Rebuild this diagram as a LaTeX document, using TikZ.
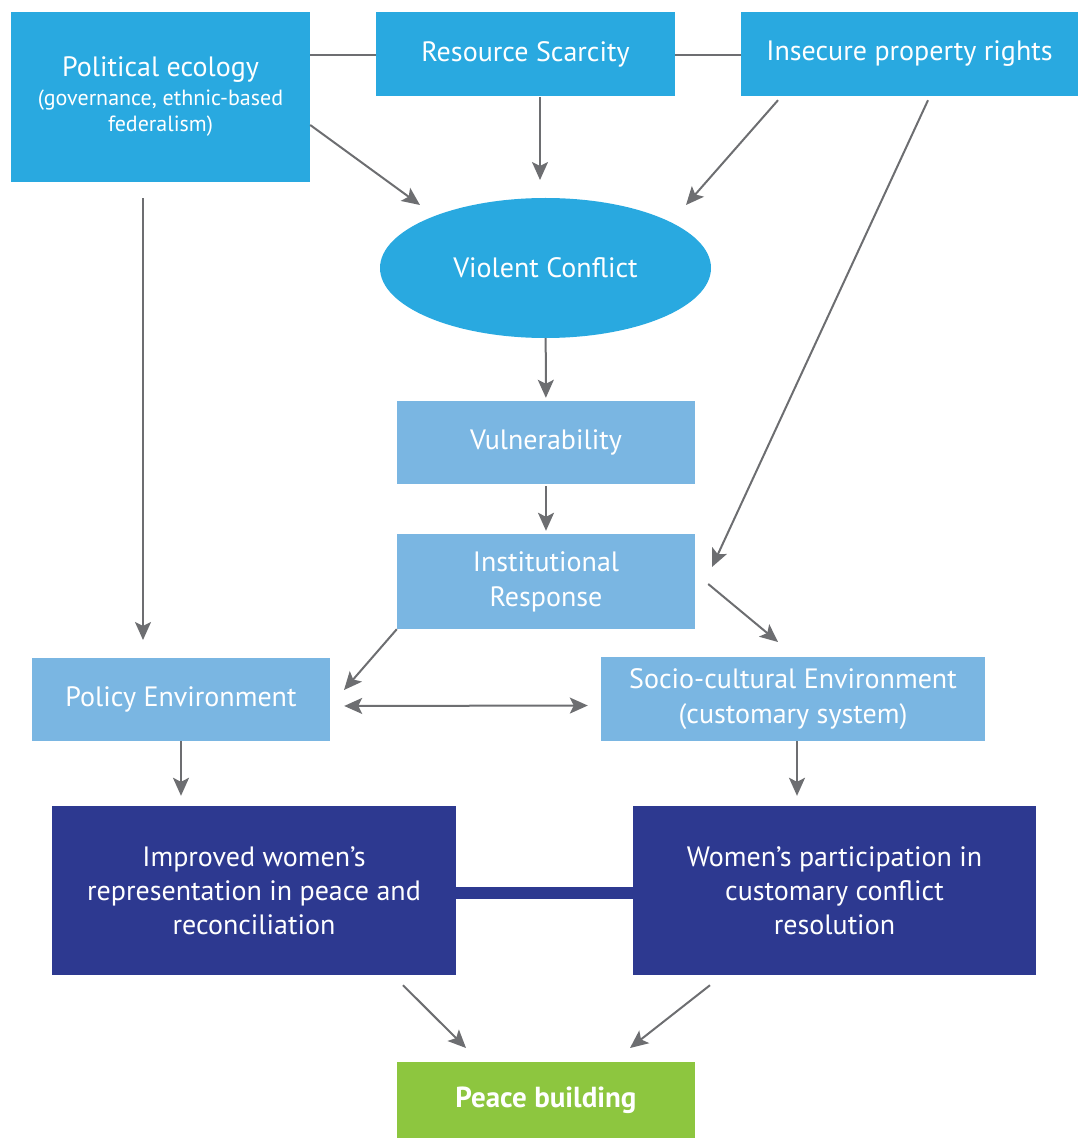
\documentclass[tikz,border=0pt]{standalone}
\usepackage{fontspec}
\setmainfont{PT Sans}
\usepackage{tikz}
\usetikzlibrary{arrows.meta,shapes.geometric}
\definecolor{topblue}{HTML}{29A9E0}
\definecolor{lightblue}{HTML}{7AB6E2}
\definecolor{navyblue}{HTML}{2D3990}
\definecolor{leafgreen}{HTML}{8DC63F}
\definecolor{arrowgray}{HTML}{6D6E71}
\def\boxfont{\fontsize{28}{35}\selectfont}
\def\subfont{\fontsize{22}{26}\selectfont}

\begin{document}
\begin{tikzpicture}[x=1pt,y=-1pt]
    \tikzstyle{box}=[rectangle,text=white,align=center,inner sep=0pt,font=\boxfont]
    \tikzstyle{top box}=[box,fill=topblue]
    \tikzstyle{mid box}=[box,fill=lightblue]
    \tikzstyle{low box}=[box,fill=navyblue,font=\fontsize{28}{34}\selectfont]
    \tikzstyle{goal box}=[box,fill=leafgreen,font=\fontsize{29}{30}\selectfont\bfseries]
    \tikzstyle{arr}=[draw=arrowgray,line width=2pt,-{Stealth[length=18pt,width=16pt,inset=4pt]}]
    \tikzstyle{link}=[draw=arrowgray,line width=1.3pt]

    \useasboundingbox (0,0) rectangle (1078,1139);

    % Top row: drivers
    \node[top box,font=\subfont,minimum width=299pt,minimum height=170pt] (pol) at (160.5,97)
        {\boxfont Political ecology\\[3pt]
         (governance, ethnic-based\\ federalism)};
    \node[top box,minimum width=299pt,minimum height=84pt] (res) at (525.5,54) {Resource Scarcity};
    \node[top box,minimum width=337pt,minimum height=84pt] (ins) at (909.5,54) {Insecure property rights};

    % Conflict and its consequences
    \node[ellipse,fill=topblue,text=white,font=\boxfont,minimum width=331pt,minimum height=140pt,inner sep=0pt] (vc) at (545.5,268) {Violent Conflict};
    \node[mid box,minimum width=298pt,minimum height=83pt] (vul) at (546,442.5) {Vulnerability};
    \node[mid box,minimum width=298pt,minimum height=95pt] (inst) at (546,581.5) {Institutional\\Response};
    \node[mid box,minimum width=298pt,minimum height=83pt] (pe) at (181,699.5) {Policy Environment};
    \node[mid box,minimum width=384pt,minimum height=84pt] (soc) at (793,699) {Socio-cultural Environment\\(customary system)};

    % Outcomes
    \node[low box,minimum width=404pt,minimum height=169pt] (imp) at (254,890.5)
        {Improved women’s\\representation in peace and\\reconciliation};
    \node[low box,minimum width=403pt,minimum height=169pt] (wp) at (834.5,890.5)
        {Women’s participation in\\customary conflict\\resolution};
    \node[goal box,minimum width=298pt,minimum height=76pt] (pb) at (546,1100) {Peace building};

    % Free ends of the slanted arrows
    \coordinate (t-pol) at (420,205);
    \coordinate (t-res) at (540,180);
    \coordinate (t-ins) at (686,205);
    \coordinate (t-inst) at (712,567);
    \coordinate (t-pe) at (143,640);
    \coordinate (t-left) at (344,690);
    \coordinate (t-right) at (778,642);
    \coordinate (t-pb1) at (466,1048);
    \coordinate (t-pb2) at (630,1048);

    % Links between the drivers
    \draw[link] ([yshift=42pt]pol.east) -- ([yshift=-1pt]res.west);
    \draw[link] ([yshift=-1pt]res.east) -- ([yshift=-1pt]ins.west);

    % Arrows
    \draw[arr] ([yshift=-28pt]pol.east) -- (t-pol);
    \draw[arr] ([xshift=14.5pt,yshift=-1pt]res.south) -- (t-res);
    \draw[arr] ([xshift=-131.5pt,yshift=-4pt]ins.south) -- (t-ins);
    \draw[arr] ([xshift=18.5pt,yshift=-4pt]ins.south) -- (t-inst);
    \draw[arr] ([xshift=-17.5pt,yshift=-16pt]pol.south) -- (t-pe);
    \draw[arr,shorten >=3pt] (vc) -- (vul);
    \draw[arr,shorten >=3pt,shorten <=2pt] (vul) -- (inst);
    \draw[arr] (inst.south west) -- (t-left);
    \draw[arr] ([xshift=13pt,yshift=-2.5pt]inst.east) -- (t-right);
    \draw[arr,{Stealth[length=18pt,width=16pt,inset=4pt]}-{Stealth[length=18pt,width=16pt,inset=4pt]},shorten <=14pt,shorten >=13pt]
        ([yshift=-6.5pt]pe.east) -- ([yshift=-6.5pt]soc.west);
    \draw[arr,shorten >=10pt] (pe.south) -- (pe.south |- imp.north);
    \draw[arr,shorten >=10pt] ([xshift=4pt]soc.south) -- ([xshift=4pt]soc.south |- wp.north);
    \draw[arr] ([xshift=149pt,yshift=-10pt]imp.south) -- (t-pb1);
    \draw[arr] ([xshift=-124.5pt,yshift=-10pt]wp.south) -- (t-pb2);

    % Tie between the two outcomes
    \draw[navyblue,line width=12pt] ([yshift=-2.5pt]imp.east) -- ([yshift=-2.5pt]wp.west);
\end{tikzpicture}
\end{document}
